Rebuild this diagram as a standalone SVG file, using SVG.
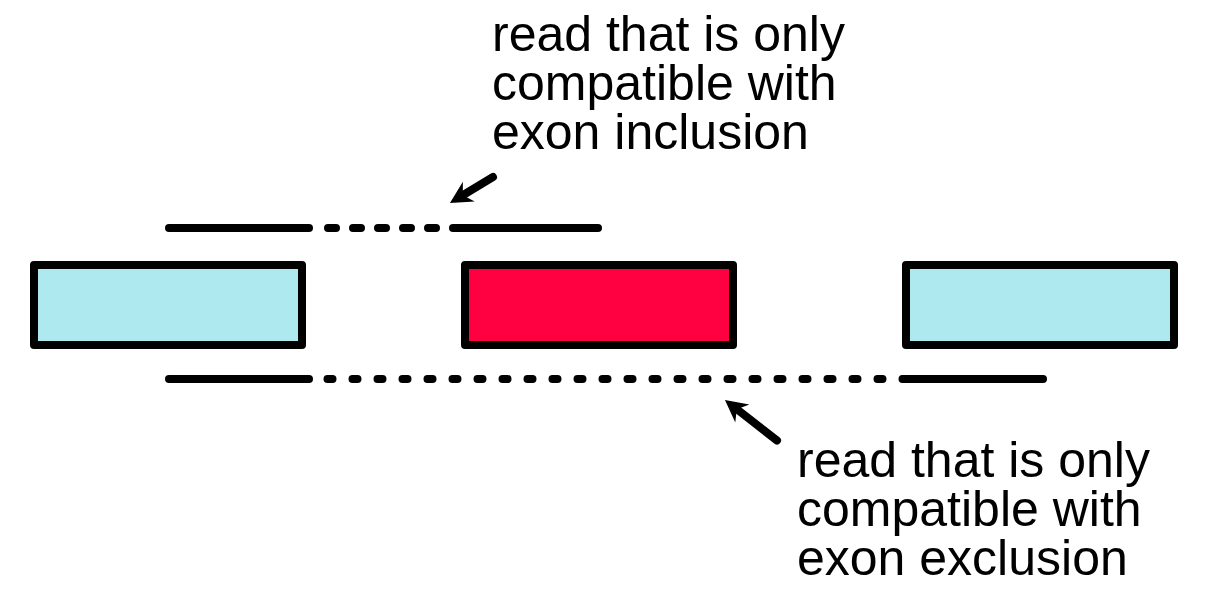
<svg xmlns="http://www.w3.org/2000/svg" width="1208" height="606" viewBox="0 0 1208 606">
<style>
.exon{stroke:#000;stroke-width:8;stroke-linejoin:round}
.alt{fill:#AEE9F0}
.inc{fill:#FF0040}
.read{stroke:#000;stroke-width:8;stroke-linecap:round;fill:none}
.arrow{stroke:#000;stroke-width:8;stroke-linecap:round;fill:none}
.lbl{font-family:"Liberation Sans",Arial,sans-serif;font-size:50px;fill:#000}
</style>
<defs>
<marker id="ah" markerUnits="userSpaceOnUse" markerWidth="50" markerHeight="50" viewBox="-25 -25 50 50" refX="0" refY="0" orient="auto" overflow="visible">
<path d="M15,0 L-7,-11.5 L0,0 L-7,11.5 Z" fill="#000"/>
</marker>
</defs>
<g id="exon1"><rect class="exon alt" x="34" y="265" width="268" height="80"/></g>
<g id="exon2"><rect class="exon inc" x="465" y="265" width="268" height="80"/></g>
<g id="exon3"><rect class="exon alt" x="906" y="265" width="268" height="80"/></g>
<g id="read-inclusion">
<path class="read" d="M169,228 H309"/>
<path class="read" d="M328,228 H438" stroke-dasharray="8 17"/>
<path class="read" d="M453,228 H598"/>
</g>
<g id="read-exclusion">
<path class="read" d="M169,379 H309"/>
<path class="read" d="M327.5,379 H907.5" stroke-dasharray="5 20"/>
<path class="read" d="M904,379 H1043"/>
</g>
<g id="connectors">
<path class="arrow" d="M493,177 L462.8,195.2" marker-end="url(#ah)"/>
<path class="arrow" d="M777,440.5 L736.8,409.2" marker-end="url(#ah)"/>
</g>
<g id="label-inclusion">
<text class="lbl" x="492" y="51">read that is only</text>
<text class="lbl" x="492" y="100">compatible with</text>
<text class="lbl" x="492" y="149">exon inclusion</text>
</g>
<g id="label-exclusion">
<text class="lbl" x="797" y="477">read that is only</text>
<text class="lbl" x="797" y="526">compatible with</text>
<text class="lbl" x="797" y="575">exon exclusion</text>
</g>
</svg>
